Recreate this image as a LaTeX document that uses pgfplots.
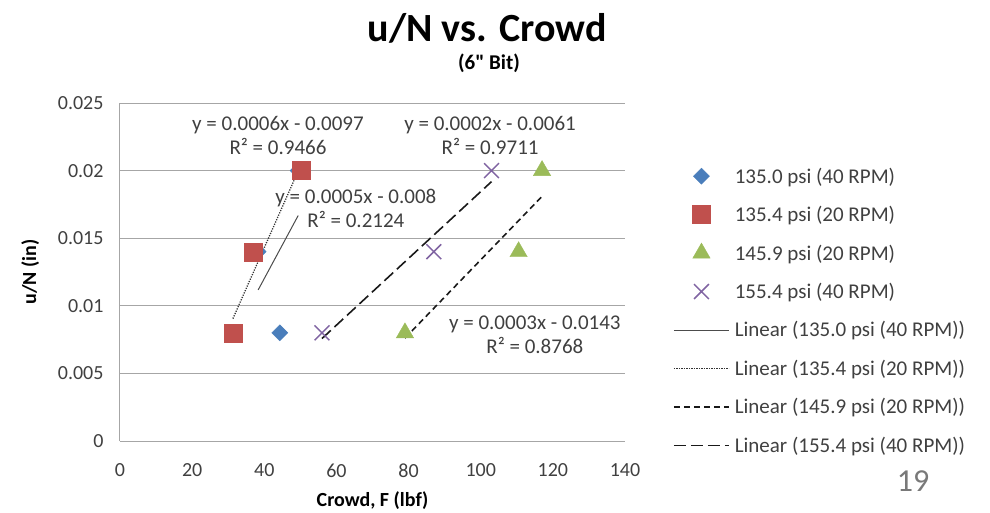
\documentclass[border=0pt]{standalone}
\usepackage{pgfplots}
\pgfplotsset{compat=1.18}
\usepackage{pgfplotstable}
\usepackage{fontspec}
\setmainfont{Carlito}

\definecolor{sBlue}{HTML}{4A7EBB}
\definecolor{sRed}{HTML}{C0504D}
\definecolor{sGreen}{HTML}{9BBB59}
\definecolor{sPurple}{HTML}{8064A2}
\definecolor{gridgray}{HTML}{A6A6A6}
\definecolor{txt}{HTML}{404040}

% u/N against crowd force for each pressure / speed setting
\pgfplotstableread{
x y
38.3 0.014
44.3 0.008
49.4 0.020
}\psiA
\pgfplotstableread{
x y
31.3 0.008
37.0 0.014
50.2 0.020
}\psiB
\pgfplotstableread{
x y
79.0 0.008
110.5 0.014
117.0 0.020
}\psiC
\pgfplotstableread{
x y
56.0 0.008
87.0 0.014
103.0 0.020
}\psiD

\pgfplotsset{
  markleg/.style={legend image code/.code={\draw[##1] plot coordinates {(27.5pt,0pt)};}},
  lineleg/.style={legend image code/.code={\draw[##1] (0pt,0pt) -- (55pt,0pt);}},
}

\begin{document}
\begin{tikzpicture}[x=1pt,y=1pt]
\useasboundingbox (0,0) rectangle (990,512);
\node[font=\bfseries\fontsize{40}{44}\selectfont] at (487,484) {u/N vs. Crowd};
\node[font=\bfseries\fontsize{21}{24}\selectfont] at (489,449) {(6\textquotedbl{} Bit)};
\node[font=\fontsize{32}{36}\selectfont, text=txt!70] at (913,31) {19};
\begin{axis}[
  at={(120pt,71pt)}, anchor=south west,
  scale only axis, width=505pt, height=338pt,
  xmin=0, xmax=140, ymin=0, ymax=0.025,
  xtick={0,20,...,140},
  ytick={0,0.005,0.01,0.015,0.02,0.025},
  yticklabels={0,0.005,0.01,0.015,0.02,0.025},
  scaled y ticks=false,
  axis x line*=bottom, axis y line*=left,
  axis line style={gridgray, line width=1pt, -},
  major tick length=0pt,
  ymajorgrids, grid style={gridgray, line width=1pt},
  tick label style={font=\fontsize{20}{24}\selectfont, text=txt},
  /pgf/number format/assume math mode=true,
  xticklabel style={yshift=-19pt},
  yticklabel style={xshift=-13pt},
  xlabel={Crowd, F (lbf)},
  ylabel={u/N (in)},
  label style={font=\bfseries\fontsize{20}{24}\selectfont},
  xlabel style={at={(axis description cs:0.5,-0.175)}, anchor=center},
  ylabel style={at={(axis description cs:-0.178,0.5)}, anchor=center},
  legend style={draw=none, fill=none, at={(1.095,0.815)}, anchor=north west,
    font=\fontsize{21}{25}\selectfont, text=txt, row sep=17.6pt, inner sep=0pt,
    nodes={inner xsep=5pt}},
  legend cell align=left,
  clip=false,
]
\addplot[only marks, markleg, mark=square*, mark size=5.7pt, mark options={rotate=45, fill=sBlue, draw=sBlue}] table[x=x,y=y] {\psiA};
\addlegendentry{135.0 psi (40 RPM)}
\addplot[only marks, markleg, mark=square*, mark size=9pt, mark options={fill=sRed, draw=sRed}] table[x=x,y=y] {\psiB};
\addlegendentry{135.4 psi (20 RPM)}
\addplot[only marks, markleg, mark=triangle*, mark size=10pt, mark options={fill=sGreen, draw=sGreen}] table[x=x,y=y] {\psiC};
\addlegendentry{145.9 psi (20 RPM)}
\addplot[only marks, markleg, mark=x, mark size=10.5pt, mark options={draw=sPurple, line width=1.5pt}] table[x=x,y=y] {\psiD};
\addlegendentry{155.4 psi (40 RPM)}
% least-squares trend lines
\addplot[lineleg, no marks, black!70, line width=1pt] table[x=x, y={create col/linear regression={y=y}}] {\psiA};
\addlegendentry{Linear (135.0 psi (40 RPM))}
\addplot[lineleg, no marks, black!80, line width=1.3pt, dash pattern=on 1.2pt off 1.3pt] table[x=x, y={create col/linear regression={y=y}}] {\psiB};
\addlegendentry{Linear (135.4 psi (20 RPM))}
\addplot[lineleg, no marks, black!90, line width=1.6pt, dash pattern=on 6pt off 4pt] table[x=x, y={create col/linear regression={y=y}}] {\psiC};
\addlegendentry{Linear (145.9 psi (20 RPM))}
\addplot[lineleg, no marks, black!90, line width=1.6pt, dash pattern=on 12pt off 5pt] table[x=x, y={create col/linear regression={y=y}}] {\psiD};
\addlegendentry{Linear (155.4 psi (40 RPM))}
\begin{scope}[every node/.style={font=\fontsize{21}{24}\selectfont, text=txt, align=center}]
\node at (axis cs:43.8,0.02263) {y = 0.0006x - 0.0097\\R² = 0.9466};
\node at (axis cs:102.6,0.02263) {y = 0.0002x - 0.0061\\R² = 0.9711};
\node at (axis cs:65.4,0.01723) {y = 0.0005x - 0.008\\R² = 0.2124};
\node at (axis cs:115,0.00784) {y = 0.0003x - 0.0143\\R² = 0.8768};
\end{scope}
\end{axis}
\end{tikzpicture}
\end{document}
